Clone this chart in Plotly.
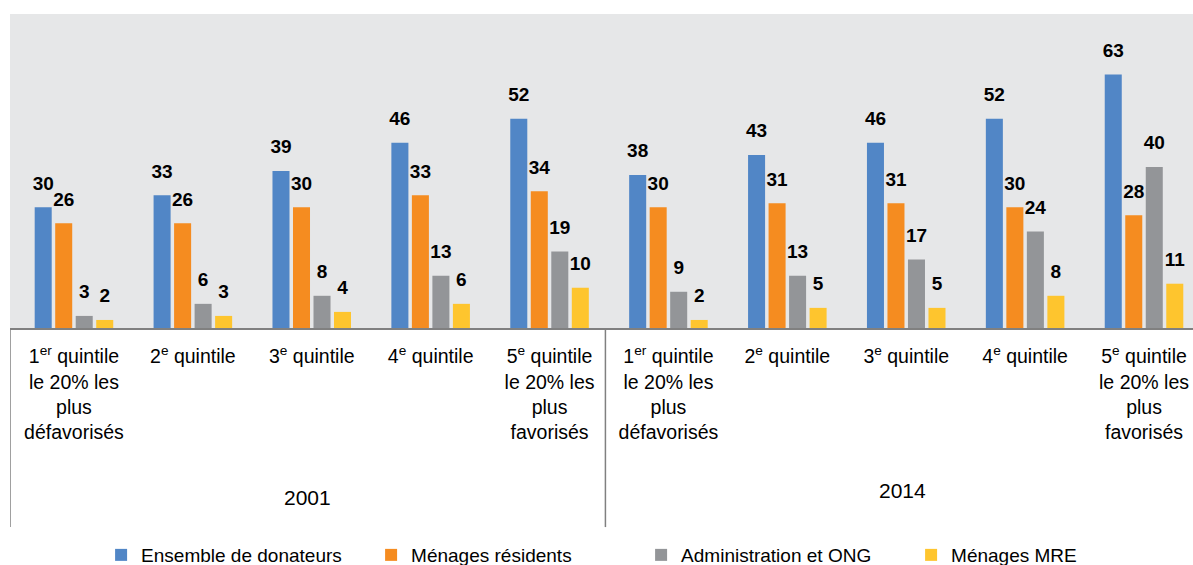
import plotly.graph_objects as go

# Data
categories = [
    "1<sup>er</sup> quintile<br>le 20% les<br>plus<br>défavorisés",
    "2<sup>e</sup> quintile",
    "3<sup>e</sup> quintile",
    "4<sup>e</sup> quintile",
    "5<sup>e</sup> quintile<br>le 20% les<br>plus<br>favorisés",
    "1<sup>er</sup> quintile<br>le 20% les<br>plus<br>défavorisés",
    "2<sup>e</sup> quintile",
    "3<sup>e</sup> quintile",
    "4<sup>e</sup> quintile",
    "5<sup>e</sup> quintile<br>le 20% les<br>plus<br>favorisés",
]
years = ["2001", "2014"]
series_names = ["Ensemble de donateurs", "Ménages résidents", "Administration et ONG", "Ménages MRE"]
ensemble = [30, 33, 39, 46, 52, 38, 43, 46, 52, 63]
residents = [26, 26, 30, 33, 34, 30, 31, 31, 30, 28]
admin_ong = [3, 6, 8, 13, 19, 9, 13, 17, 24, 40]
mre = [2, 3, 4, 6, 10, 2, 5, 5, 8, 11]

colors = ["#5186c6", "#f58c20", "#939598", "#fec52e"]
xpos = list(range(len(categories)))
FONT = "Liberation Sans, Arial, sans-serif"
GAP = 0.31

fig = go.Figure()
for name, vals, col in zip(series_names, [ensemble, residents, admin_ong, mre], colors):
    fig.add_trace(go.Bar(
        x=xpos, y=vals, name=name,
        marker=dict(color=col, line=dict(width=0)),
        hoverinfo="name+y",
    ))
# value labels, grouped like the bars, lifted above the bar tops
for name, vals in zip(series_names, [ensemble, residents, admin_ong, mre]):
    fig.add_trace(go.Scatter(
        x=xpos, y=vals, mode="markers+text", showlegend=False,
        marker=dict(size=19, color="rgba(0,0,0,0)"),
        text=[str(v) for v in vals], textposition="top center",
        textfont=dict(family=FONT, size=19, color="black", weight="bold"),
        cliponaxis=False, hoverinfo="skip",
    ))

fig.update_layout(
    width=1193, height=565,
    margin=dict(l=10, r=0, t=14, b=237, autoexpand=False),
    paper_bgcolor="white", plot_bgcolor="#e6e7e8",
    barmode="group", bargap=GAP, bargroupgap=0.17,
    scattermode="group", scattergap=GAP,
    font=dict(family=FONT, size=19, color="black"),
    showlegend=True,
    legend=dict(orientation="h", x=0.077, xanchor="left", y=-0.723, yanchor="middle",
                font=dict(size=19), entrywidth=225, entrywidthmode="pixels",
                itemwidth=30, traceorder="normal"),
)
fig.update_xaxes(
    range=[-0.538, 9.412], tickvals=xpos, ticktext=categories, tickangle=0,
    showgrid=False, zeroline=False, showline=True, linecolor="#808080", linewidth=2,
    ticks="", ticklabelstandoff=10, tickfont=dict(size=19.5),
)
fig.update_yaxes(range=[0, 78], showgrid=False, zeroline=False, showticklabels=False, showline=False)

# separators
for xv in [-0.538, 4.47]:
    fig.add_shape(type="line", xref="x", yref="paper", x0=xv, x1=xv, y0=0, y1=-0.634,
                  line=dict(color="#808080", width=1.5))

fig.add_annotation(x=1.96, y=-0.541, xref="x", yref="paper", text=years[0], showarrow=False,
                   font=dict(size=21), yanchor="middle")
fig.add_annotation(x=6.97, y=-0.516, xref="x", yref="paper", text=years[1], showarrow=False,
                   font=dict(size=21), yanchor="middle")

fig.write_html(
    "out.html",
    config={"displayModeBar": False},
    post_script="document.body.style.margin='0';document.body.style.overflow='hidden';",
)
